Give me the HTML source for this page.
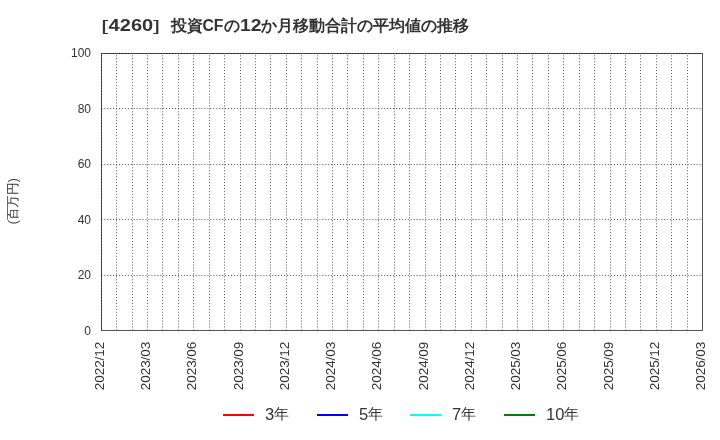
<!DOCTYPE html>
<html><head><meta charset="utf-8">
<style>
html,body{margin:0;padding:0;background:#fff;}
body{width:720px;height:440px;overflow:hidden;}
svg{display:block;will-change:transform;font-family:"Liberation Sans",sans-serif;}
.vg{stroke:rgba(0,0,0,0.65);stroke-width:1;stroke-dasharray:1.0 1.947;}
.hg{stroke:rgba(0,0,0,0.68);stroke-width:1;stroke-dasharray:1.0 1.947;}
.box{fill:none;stroke:#555;stroke-width:1;}
.yl{font-size:12px;fill:#333;}
.xl{font-size:12.5px;fill:#333;}
.lt{font-size:15px;fill:#333;}
.ld{font-size:16.5px;}
.tt{font-size:16px;font-weight:bold;fill:#333;}
.tl{font-size:15.6px;}
.tb{font-weight:normal;font-size:15.5px;}
.at{font-size:12.5px;fill:#333;}
</style></head><body>
<svg width="720" height="440" viewBox="0 0 720 440">
<rect width="720" height="440" fill="#fff"/>
<text x="101.1" y="31" class="tt tb" textLength="7.2" lengthAdjust="spacingAndGlyphs">[</text>
<text x="108.6" y="31" class="tt tl" textLength="44.6" lengthAdjust="spacingAndGlyphs">4260</text>
<text x="152.9" y="31" class="tt tb" textLength="7.2" lengthAdjust="spacingAndGlyphs">]</text>
<text x="170.5" y="31" class="tt tc" textLength="32" lengthAdjust="spacingAndGlyphs">投資</text>
<text x="202.5" y="31" class="tt tl" textLength="21" lengthAdjust="spacingAndGlyphs">CF</text>
<text x="223.5" y="31" class="tt tc" textLength="16" lengthAdjust="spacingAndGlyphs">の</text>
<text x="240" y="31" class="tt tl" textLength="21.5" lengthAdjust="spacingAndGlyphs">12</text>
<text x="261" y="31" class="tt tc" textLength="208.5" lengthAdjust="spacingAndGlyphs">か月移動合計の平均値の推移</text>
<text transform="translate(16.8,201.2) rotate(-90)" class="at" text-anchor="middle" textLength="46" lengthAdjust="spacingAndGlyphs">(百万円)</text>
<rect x="101.5" y="53.5" width="601" height="277" class="box"/>
<line x1="101.5" y1="55.34" x2="101.5" y2="330" class="vg"/>
<line x1="116.5" y1="55.34" x2="116.5" y2="330" class="vg"/>
<line x1="132.5" y1="55.34" x2="132.5" y2="330" class="vg"/>
<line x1="147.5" y1="55.34" x2="147.5" y2="330" class="vg"/>
<line x1="162.5" y1="55.34" x2="162.5" y2="330" class="vg"/>
<line x1="178.5" y1="55.34" x2="178.5" y2="330" class="vg"/>
<line x1="193.5" y1="55.34" x2="193.5" y2="330" class="vg"/>
<line x1="209.5" y1="55.34" x2="209.5" y2="330" class="vg"/>
<line x1="224.5" y1="55.34" x2="224.5" y2="330" class="vg"/>
<line x1="240.5" y1="55.34" x2="240.5" y2="330" class="vg"/>
<line x1="255.5" y1="55.34" x2="255.5" y2="330" class="vg"/>
<line x1="270.5" y1="55.34" x2="270.5" y2="330" class="vg"/>
<line x1="286.5" y1="55.34" x2="286.5" y2="330" class="vg"/>
<line x1="301.5" y1="55.34" x2="301.5" y2="330" class="vg"/>
<line x1="317.5" y1="55.34" x2="317.5" y2="330" class="vg"/>
<line x1="332.5" y1="55.34" x2="332.5" y2="330" class="vg"/>
<line x1="347.5" y1="55.34" x2="347.5" y2="330" class="vg"/>
<line x1="363.5" y1="55.34" x2="363.5" y2="330" class="vg"/>
<line x1="378.5" y1="55.34" x2="378.5" y2="330" class="vg"/>
<line x1="394.5" y1="55.34" x2="394.5" y2="330" class="vg"/>
<line x1="409.5" y1="55.34" x2="409.5" y2="330" class="vg"/>
<line x1="425.5" y1="55.34" x2="425.5" y2="330" class="vg"/>
<line x1="440.5" y1="55.34" x2="440.5" y2="330" class="vg"/>
<line x1="455.5" y1="55.34" x2="455.5" y2="330" class="vg"/>
<line x1="471.5" y1="55.34" x2="471.5" y2="330" class="vg"/>
<line x1="486.5" y1="55.34" x2="486.5" y2="330" class="vg"/>
<line x1="502.5" y1="55.34" x2="502.5" y2="330" class="vg"/>
<line x1="517.5" y1="55.34" x2="517.5" y2="330" class="vg"/>
<line x1="532.5" y1="55.34" x2="532.5" y2="330" class="vg"/>
<line x1="548.5" y1="55.34" x2="548.5" y2="330" class="vg"/>
<line x1="563.5" y1="55.34" x2="563.5" y2="330" class="vg"/>
<line x1="579.5" y1="55.34" x2="579.5" y2="330" class="vg"/>
<line x1="594.5" y1="55.34" x2="594.5" y2="330" class="vg"/>
<line x1="610.5" y1="55.34" x2="610.5" y2="330" class="vg"/>
<line x1="625.5" y1="55.34" x2="625.5" y2="330" class="vg"/>
<line x1="640.5" y1="55.34" x2="640.5" y2="330" class="vg"/>
<line x1="656.5" y1="55.34" x2="656.5" y2="330" class="vg"/>
<line x1="671.5" y1="55.34" x2="671.5" y2="330" class="vg"/>
<line x1="687.5" y1="55.34" x2="687.5" y2="330" class="vg"/>
<line x1="101.32" y1="275.5" x2="702" y2="275.5" class="hg"/>
<line x1="101.32" y1="219.5" x2="702" y2="219.5" class="hg"/>
<line x1="101.32" y1="164.5" x2="702" y2="164.5" class="hg"/>
<line x1="101.32" y1="108.5" x2="702" y2="108.5" class="hg"/>
<line x1="101.32" y1="53.5" x2="702" y2="53.5" class="hg"/>
<text x="91" y="334.50" class="yl" text-anchor="end">0</text>
<text x="91" y="279.10" class="yl" text-anchor="end">20</text>
<text x="91" y="223.70" class="yl" text-anchor="end">40</text>
<text x="91" y="168.30" class="yl" text-anchor="end">60</text>
<text x="91" y="112.90" class="yl" text-anchor="end">80</text>
<text x="91" y="57.20" class="yl" text-anchor="end">100</text>
<text transform="translate(104.30,341.7) rotate(-90)" class="xl" text-anchor="end" textLength="48.6" lengthAdjust="spacingAndGlyphs">2022/12</text>
<text transform="translate(150.30,341.7) rotate(-90)" class="xl" text-anchor="end" textLength="48.6" lengthAdjust="spacingAndGlyphs">2023/03</text>
<text transform="translate(196.30,341.7) rotate(-90)" class="xl" text-anchor="end" textLength="48.6" lengthAdjust="spacingAndGlyphs">2023/06</text>
<text transform="translate(243.30,341.7) rotate(-90)" class="xl" text-anchor="end" textLength="48.6" lengthAdjust="spacingAndGlyphs">2023/09</text>
<text transform="translate(289.30,341.7) rotate(-90)" class="xl" text-anchor="end" textLength="48.6" lengthAdjust="spacingAndGlyphs">2023/12</text>
<text transform="translate(335.30,341.7) rotate(-90)" class="xl" text-anchor="end" textLength="48.6" lengthAdjust="spacingAndGlyphs">2024/03</text>
<text transform="translate(381.30,341.7) rotate(-90)" class="xl" text-anchor="end" textLength="48.6" lengthAdjust="spacingAndGlyphs">2024/06</text>
<text transform="translate(428.30,341.7) rotate(-90)" class="xl" text-anchor="end" textLength="48.6" lengthAdjust="spacingAndGlyphs">2024/09</text>
<text transform="translate(474.30,341.7) rotate(-90)" class="xl" text-anchor="end" textLength="48.6" lengthAdjust="spacingAndGlyphs">2024/12</text>
<text transform="translate(520.30,341.7) rotate(-90)" class="xl" text-anchor="end" textLength="48.6" lengthAdjust="spacingAndGlyphs">2025/03</text>
<text transform="translate(566.30,341.7) rotate(-90)" class="xl" text-anchor="end" textLength="48.6" lengthAdjust="spacingAndGlyphs">2025/06</text>
<text transform="translate(613.30,341.7) rotate(-90)" class="xl" text-anchor="end" textLength="48.6" lengthAdjust="spacingAndGlyphs">2025/09</text>
<text transform="translate(659.30,341.7) rotate(-90)" class="xl" text-anchor="end" textLength="48.6" lengthAdjust="spacingAndGlyphs">2025/12</text>
<text transform="translate(705.30,341.7) rotate(-90)" class="xl" text-anchor="end" textLength="48.6" lengthAdjust="spacingAndGlyphs">2026/03</text>
<rect x="223" y="414" width="31" height="2" fill="#ff0000"/>
<text x="265" y="419.8" class="lt ld">3</text>
<text x="273.5" y="419" class="lt" textLength="15" lengthAdjust="spacingAndGlyphs">年</text>
<rect x="317" y="414" width="31" height="2" fill="#0000ff"/>
<text x="359" y="419.8" class="lt ld">5</text>
<text x="367.5" y="419" class="lt" textLength="15" lengthAdjust="spacingAndGlyphs">年</text>
<rect x="410" y="414" width="31" height="2" fill="#00ffff"/>
<text x="452" y="419.8" class="lt ld">7</text>
<text x="460.5" y="419" class="lt" textLength="15" lengthAdjust="spacingAndGlyphs">年</text>
<rect x="504" y="414" width="31" height="2" fill="#008000"/>
<text x="546" y="419.8" class="lt ld">10</text>
<text x="563.5" y="419" class="lt" textLength="15" lengthAdjust="spacingAndGlyphs">年</text>
</svg>
</body></html>
